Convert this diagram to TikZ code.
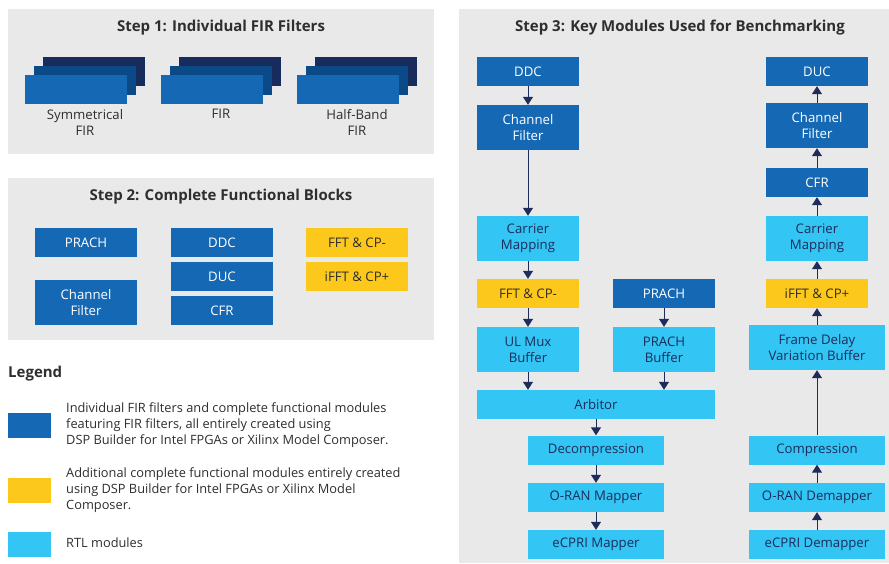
\documentclass[tikz,border=0pt]{standalone}
\usepackage{fontspec}
\setmainfont{Open Sans}
\usepackage{tikz}
\usetikzlibrary{arrows.meta}

\definecolor{panelgray}{HTML}{E9E9E9}
\definecolor{firblue}{HTML}{1468B4}
\definecolor{firmid}{HTML}{0C4A87}
\definecolor{firdark}{HTML}{182B5D}
\definecolor{rtlblue}{HTML}{33C5F3}
\definecolor{addyellow}{HTML}{FDC81C}
\definecolor{arrownavy}{HTML}{1E2C5C}
\definecolor{textdark}{HTML}{2E2E2E}

\begin{document}
\begin{tikzpicture}[x=1pt, y=-1pt,
                    panel/.style={fill=panelgray, draw=none},
                    title/.style={font=\bfseries\fontsize{15}{17}\selectfont, text=textdark},
                    box/.style={minimum width=102pt, minimum height=29pt, inner sep=0pt,
                                align=center, font=\fontsize{13.2}{16}\selectfont},
                    tall/.style={box, minimum height=45pt},
                    wide/.style={box, minimum width=136pt},
                    dsp/.style={fill=firblue, text=white},
                    add/.style={fill=addyellow, text=textdark},
                    rtl/.style={fill=rtlblue, text=arrownavy},
                    flow/.style={draw=arrownavy, line width=1pt,
                                 -{Triangle[width=10pt,length=8pt]}},
                    legtext/.style={anchor=west, align=left, text=textdark, inner sep=0pt,
                                    font=\fontsize{12.8}{16}\selectfont}]
  \fill[white] (0,0) rectangle (889,563);

  % Step 1
  \fill[panel] (8,9) rectangle (434,154);
  \node[title] (step1) at (221,28) {Step 1: Individual FIR Filters};
  \foreach \name/\cx in {sym/76, fir/212, half/348} {
    \node[box, fill=firdark] (\name back) at (\cx+18,71.5) {};
    \node[box, fill=firmid] (\name mid) at (\cx+9,80.5) {};
    \node[box, fill=firblue] (\name front) at (\cx,89.5) {};
  }
  \node[box, text=textdark, minimum height=0pt] (symlabel) at (85,122) {Symmetrical\\FIR};
  \node[box, text=textdark, minimum height=0pt] (firlabel) at (221,114) {FIR};
  \node[box, text=textdark, minimum height=0pt] (halflabel) at (357,122) {Half-Band\\FIR};

  % Step 2
  \fill[panel] (8,178) rectangle (434,340);
  \node[title] (step2) at (221,197) {Step 2: Complete Functional Blocks};
  \node[box, dsp] (prach2) at (86,242.5) {PRACH};
  \node[tall, dsp] (chfilt2) at (86,302.5) {Channel\\Filter};
  \node[box, dsp] (ddc2) at (222,242.5) {DDC};
  \node[box, dsp] (duc2) at (222,276.5) {DUC};
  \node[box, dsp] (cfr2) at (222,310.5) {CFR};
  \node[box, add] (fft2) at (357,242.5) {FFT \& CP-};
  \node[box, add] (ifft2) at (357,276.5) {iFFT \& CP+};

  % Legend
  \node[title, anchor=west, inner sep=0pt] (legend) at (8,374) {Legend};
  \fill[firblue] (8,413) rectangle (51,438);
  \fill[addyellow] (8,478) rectangle (51,503);
  \fill[rtlblue] (8,532) rectangle (51,557);
  \node[legtext] (legdsp) at (66,425)
    {Individual FIR filters and complete functional modules\\
     featuring FIR filters, all entirely created using\\
     DSP Builder for Intel FPGAs or Xilinx Model Composer.};
  \node[legtext] (legadd) at (66,490)
    {Additional complete functional modules entirely created\\
     using DSP Builder for Intel FPGAs or Xilinx Model\\
     Composer.};
  \node[legtext] (legrtl) at (66,543) {RTL modules};

  % Step 3
  \fill[panel] (459,9) rectangle (889,563);
  \node[title] (step3) at (680,28) {Step 3: Key Modules Used for Benchmarking};

  % receive path
  \node[box, dsp] (ddc) at (528,71.5) {DDC};
  \node[tall, dsp] (chfiltrx) at (528,127.5) {Channel\\Filter};
  \node[tall, rtl] (carrierrx) at (528,238.5) {Carrier\\Mapping};
  \node[box, add] (fft) at (528,293.5) {FFT \& CP-};
  \node[tall, rtl] (ulmux) at (528,349.5) {UL Mux\\Buffer};
  \node[box, dsp] (prach) at (664,293.5) {PRACH};
  \node[tall, rtl] (prachbuf) at (664,349.5) {PRACH\\Buffer};
  \node[box, rtl, minimum width=238pt] (arbitor) at (596,404.5) {Arbitor};
  \node[wide, rtl] (decomp) at (596,450) {Decompression};
  \node[wide, rtl] (oranmap) at (596,497.5) {O-RAN Mapper};
  \node[wide, rtl] (ecprimap) at (596,544.5) {eCPRI Mapper};

  % transmit path
  \node[box, dsp] (duc) at (817,71.5) {DUC};
  \node[tall, dsp] (chfilttx) at (817,125.5) {Channel\\Filter};
  \node[box, dsp] (cfr) at (817,182.5) {CFR};
  \node[tall, rtl] (carriertx) at (817,238.5) {Carrier\\Mapping};
  \node[box, add] (ifft) at (817,293.5) {iFFT \& CP+};
  \node[tall, rtl, minimum width=136pt] (fdvbuf) at (817,347.5) {Frame Delay\\Variation Buffer};
  \node[wide, rtl] (comp) at (817,450) {Compression};
  \node[wide, rtl] (orandemap) at (817,497.5) {O-RAN Demapper};
  \node[wide, rtl] (ecpridemap) at (817,544.5) {eCPRI Demapper};

  \draw[flow] (ddc) -- (chfiltrx);
  \draw[flow] (chfiltrx) -- (carrierrx);
  \draw[flow] (carrierrx) -- (fft);
  \draw[flow] (fft) -- (ulmux);
  \draw[flow] (prach) -- (prachbuf);
  \draw[flow] (ulmux.south) -- (ulmux.south |- arbitor.north);
  \draw[flow] (prachbuf.south) -- (prachbuf.south |- arbitor.north);
  \draw[flow] (arbitor.south -| decomp.north) -- (decomp);
  \draw[flow] (decomp) -- (oranmap);
  \draw[flow] (oranmap) -- (ecprimap);

  \draw[flow] (ecpridemap) -- (orandemap);
  \draw[flow] (orandemap) -- (comp);
  \draw[flow] (comp) -- (fdvbuf);
  \draw[flow] (fdvbuf) -- (ifft);
  \draw[flow] (ifft) -- (carriertx);
  \draw[flow] (carriertx) -- (cfr);
  \draw[flow] (cfr) -- (chfilttx);
  \draw[flow] (chfilttx) -- (duc);
\end{tikzpicture}
\end{document}
